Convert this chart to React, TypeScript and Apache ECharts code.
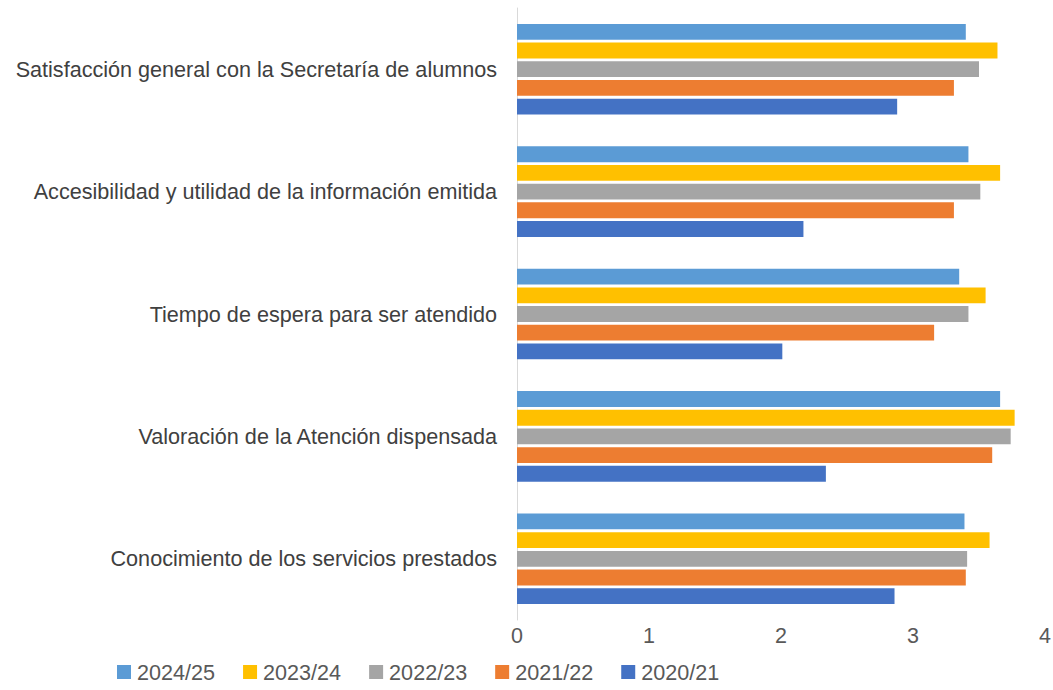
import React, { useEffect, useRef } from "react";
import * as echarts from "echarts";

const categories = [
  "Conocimiento de los servicios prestados",
  "Valoración de la Atención dispensada",
  "Tiempo de espera para ser atendido",
  "Accesibilidad y utilidad de la información emitida",
  "Satisfacción general con la Secretaría de alumnos",
];

const s2024_25 = [3.39, 3.66, 3.35, 3.42, 3.4];
const s2023_24 = [3.58, 3.77, 3.55, 3.66, 3.64];
const s2022_23 = [3.41, 3.74, 3.42, 3.51, 3.5];
const s2021_22 = [3.4, 3.6, 3.16, 3.31, 3.31];
const s2020_21 = [2.86, 2.34, 2.01, 2.17, 2.88];

const seriesNames = ["2024/25", "2023/24", "2022/23", "2021/22", "2020/21"];
const seriesData = [s2024_25, s2023_24, s2022_23, s2021_22, s2020_21];
const seriesColors = ["#5B9BD5", "#FFC000", "#A5A5A5", "#ED7D31", "#4472C4"];

export default function App() {
  const ref = useRef<HTMLDivElement>(null);
  useEffect(() => {
    document.body.style.margin = "0";
    if (!ref.current) return;
    const chart = echarts.init(ref.current, undefined, { renderer: "svg" });
    const font = "Liberation Sans";
    chart.setOption({
      animation: false,
      grid: { left: 517, right: 8, top: 8, bottom: 70, containLabel: false, outerBoundsMode: "none" },
      legend: {
        data: seriesNames,
        bottom: 2,
        left: 112,
        itemWidth: 14,
        itemHeight: 14,
        itemGap: 28,
        icon: "rect",
        textStyle: { fontFamily: font, fontSize: 21.6, color: "#595959", padding: [0, 0, 0, 1] },
      },
      xAxis: {
        type: "value",
        min: 0,
        max: 4,
        interval: 1,
        axisLine: { show: false },
        axisTick: { show: false },
        splitLine: { show: false },
        axisLabel: { fontFamily: font, fontSize: 21.5, color: "#595959", margin: 5 },
      },
      yAxis: {
        type: "category",
        data: categories,
        axisLine: { show: true, lineStyle: { color: "#D9D9D9", width: 1 } },
        axisTick: { show: false },
        axisLabel: { fontFamily: font, fontSize: 21.6, color: "#404040", margin: 20 },
      },
      series: seriesNames.map((name, i) => ({
        name,
        type: "bar",
        data: seriesData[i],
        itemStyle: { color: seriesColors[i] },
        barGap: "18%",
        barCategoryGap: "26%",
      })),
    });
    return () => chart.dispose();
  }, []);
  return <div ref={ref} style={{ width: 1053, height: 690 }} />;
}
